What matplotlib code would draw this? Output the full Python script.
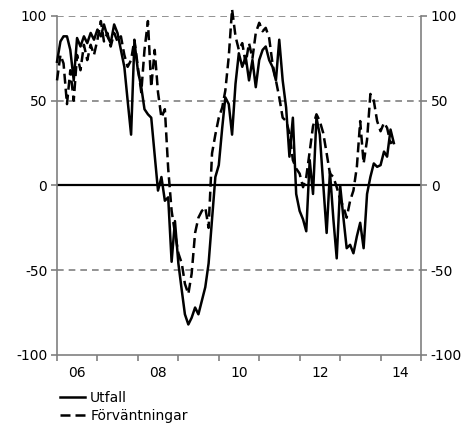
import pandas as pd
import numpy as np
import matplotlib
matplotlib.use("Agg")
import matplotlib.pyplot as plt
import matplotlib.dates as mdates

# monthly values, Jan 2006 - May 2014
months = pd.date_range("2006-01-01", periods=101, freq="MS")

utfall = [73, 85, 88, 88, 80, 62, 87, 82, 88, 84, 90, 86,
          92, 88, 95, 88, 84, 95, 90, 80, 70, 50, 30, 85,
          68, 58, 45, 42, 40, 18, -3, 5, -9, -7, -45, -21,
          -46, -62, -76, -82, -78, -72, -76, -68, -60, -46, -20, 5,
          12, 34, 52, 48, 30, 60, 78, 70, 76, 62, 74, 58,
          74, 80, 82, 74, 70, 62, 86, 62, 46, 17, 40, -5,
          -15, -20, -27, 15, -5, 40, 30, 1, -28, 8, -20, -43,
          0, -20, -37, -35, -40, -30, -22, -37, -5, 5, 13, 11,
          12, 20, 17, 33, 25]

forvantningar = [62, 77, 72, 48, 68, 50, 77, 68, 83, 74, 83, 77,
                 86, 97, 85, 90, 82, 90, 85, 88, 77, 70, 74, 86,
                 70, 55, 80, 97, 58, 80, 55, 40, 45, 10, -15, -28,
                 -40, -46, -58, -64, -52, -28, -19, -15, -13, -25, 19, 30,
                 40, 46, 56, 76, 104, 88, 80, 84, 72, 84, 75, 90,
                 96, 91, 93, 87, 72, 62, 52, 40, 38, 31, 15, 10,
                 7, -1, 5, 20, 35, 42, 38, 31, 19, 7, 5, -1,
                 -8, -13, -19, -9, -3, 11, 38, 13, 27, 54, 50, 38,
                 32, 37, 34, 25, 26]

yticks = [-100, -50, 0, 50, 100]

fig = plt.figure(figsize=(4.7, 4.23), dpi=100)
ax = fig.add_axes([0.1213, 0.1608, 0.7744, 0.8014])

for y in [-50, 50, 100]:
    ax.axhline(y, color='#808080', linestyle=(0, (4, 3)), linewidth=1.2, zorder=1)
ax.axhline(0, color='black', linewidth=1.6, zorder=2)

ax.plot(months, utfall, color='black', linewidth=1.8, label='Utfall',
        zorder=3, clip_on=False)
ax.plot(months, forvantningar, color='black', linewidth=1.8,
        linestyle=(0, (4, 2)), label='Förväntningar', zorder=3, clip_on=False)

ax.set_ylim(-100, 100)
ax.set_xlim(pd.Timestamp("2006-01-01"), pd.Timestamp("2015-01-01"))
ax.set_yticks(yticks)
ax.set_yticklabels([str(v) for v in yticks])

ax.xaxis.set_major_locator(mdates.YearLocator(1))
ax.xaxis.set_major_formatter(plt.NullFormatter())
ax.xaxis.set_minor_locator(mdates.YearLocator(2, month=7, day=1))
ax.xaxis.set_minor_formatter(mdates.DateFormatter('%y'))

for s in ['left', 'right', 'bottom']:
    ax.spines[s].set_color('#808080')
    ax.spines[s].set_linewidth(1.2)
ax.spines['top'].set_visible(False)

ax.tick_params(axis='y', which='both', direction='out', length=4, width=1.2,
               color='#808080', labelsize=10, pad=3, left=True, right=True,
               labelleft=True, labelright=True)
ax.tick_params(axis='x', which='major', direction='out', length=4, width=1.2,
               color='#808080')
ax.tick_params(axis='x', which='minor', length=0, labelsize=10, pad=8)

fig.legend(loc='lower left', bbox_to_anchor=(0.115, -0.012), frameon=False,
           fontsize=10, handlelength=1.8, handletextpad=0.4, labelspacing=0.25,
           borderaxespad=0.0)

fig.savefig("out.png", dpi=100)
